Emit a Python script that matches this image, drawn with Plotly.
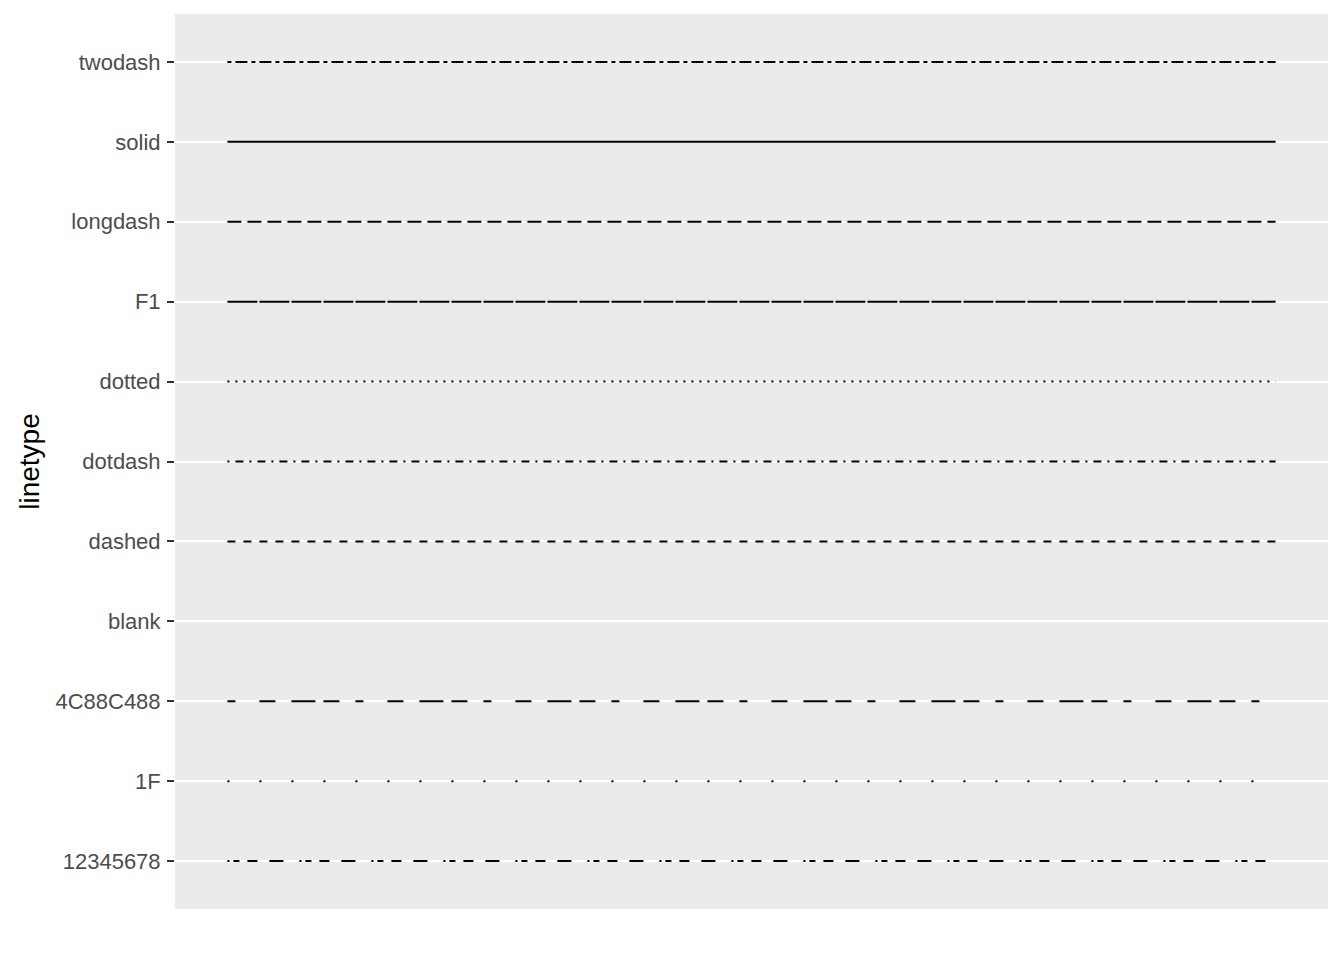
import plotly.graph_objects as go

# linetype names, bottom to top, and their R dash codes (hex digits, units of line width)
linetypes = ["12345678", "1F", "4C88C488", "blank", "dashed", "dotdash",
             "dotted", "F1", "longdash", "solid", "twodash"]
dash_codes = ["12345678", "1F", "4C88C488", None, "44", "1343",
              "13", "F1", "73", None, "2262"]
x_start = [0, 0, 0, 0, 0, 0, 0, 0, 0, 0, 0]
x_end = [1, 1, 1, 1, 1, 1, 1, 1, 1, 1, 1]

UNIT = 2  # px per dash unit (line width)


def to_dash(name, code):
    if name == "solid":
        return "solid"
    if code is None:
        return "solid"
    return ",".join(f"{int(c, 16) * UNIT}px" for c in code)


fig = go.Figure()
for name, code, x0, x1 in zip(linetypes, dash_codes, x_start, x_end):
    colour = "rgba(0,0,0,0)" if name == "blank" else "black"
    fig.add_trace(go.Scatter(
        x=[x0, x1], y=[name, name], mode="lines",
        line=dict(color=colour, width=2, dash=to_dash(name, code)),
        showlegend=False, hoverinfo="skip"))

fig.update_layout(
    width=1344, height=960,
    plot_bgcolor="#EBEBEB", paper_bgcolor="white",
    margin=dict(l=167, r=24, t=6, b=59),
    font=dict(family="Liberation Sans, Arial, sans-serif"),
    xaxis=dict(range=[-0.05, 1.05], showgrid=False, zeroline=False,
               showticklabels=False, ticks=""),
    yaxis=dict(type="category", categoryorder="array", categoryarray=linetypes,
               range=[-0.6, len(linetypes) - 0.4],
               showgrid=True, gridcolor="white", gridwidth=2, zeroline=False,
               ticks="outside", ticklen=7, tickwidth=2, tickcolor="#333333",
               ticklabelstandoff=2,
               tickfont=dict(size=22, color="#4D4D4D"),
               title=dict(text="linetype", font=dict(size=28, color="black"),
                          standoff=7)),
)

fig.write_html("out.html")
